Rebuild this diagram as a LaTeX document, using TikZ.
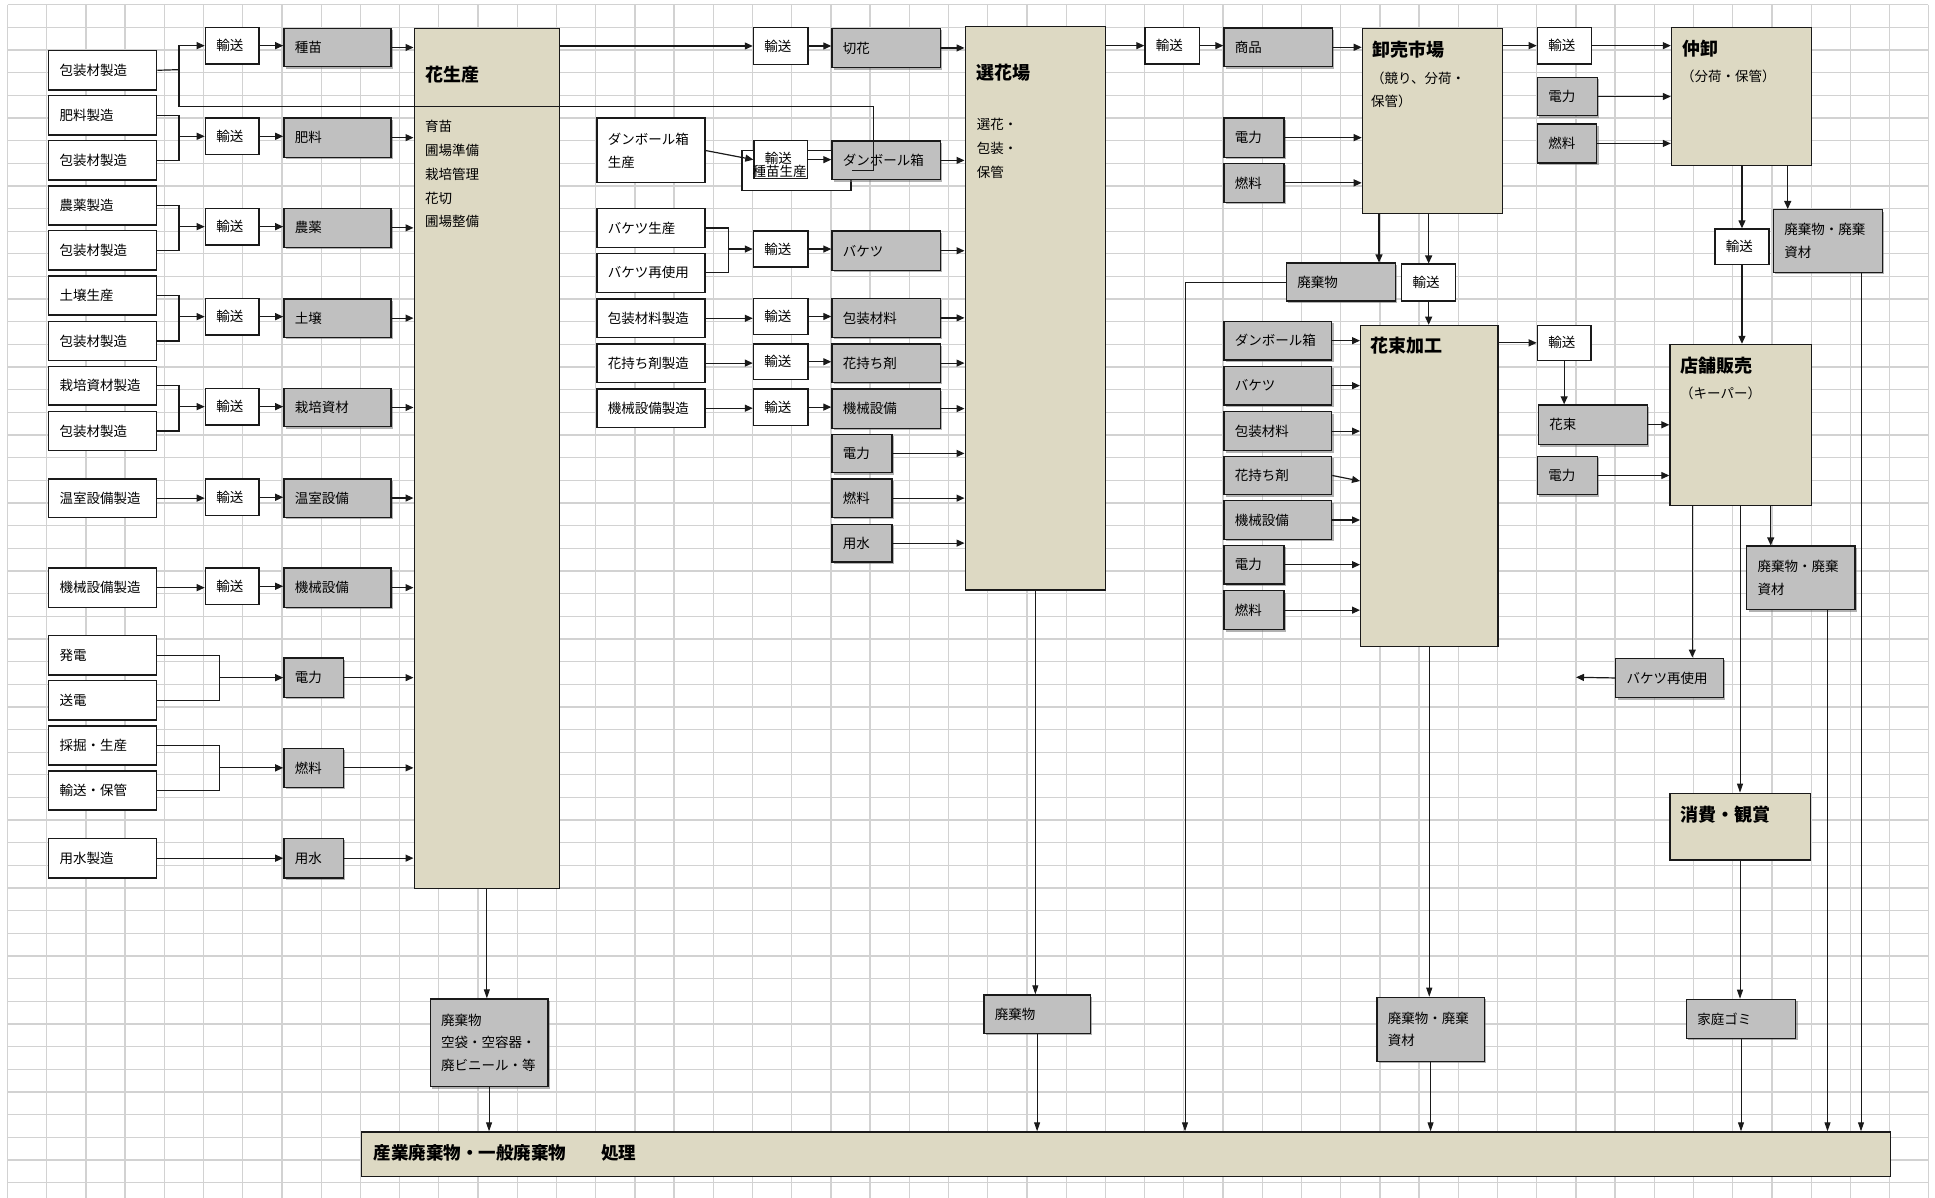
\documentclass[tikz,border=0pt]{standalone}
\usepackage{fontspec}
\setmainfont{Noto Sans CJK JP}
\usetikzlibrary{arrows.meta,shadows,calc}
\definecolor{gfill}{HTML}{C0C0C0}
\definecolor{tfill}{HTML}{DDD9C3}
\definecolor{bord}{HTML}{1A1A1A}
\definecolor{gridc}{HTML}{D2D2D2}
\tikzset{
 base/.style={draw=bord, line width=1.3pt, inner xsep=11pt, inner ysep=0pt, align=left, font=\fontsize{13.5}{22.7}\selectfont},
 wbox/.style={base, fill=white},
 gbox/.style={base, fill=gfill, drop shadow={shadow xshift=2pt, shadow yshift=-2pt, fill=black!55, opacity=0.55}},
 tbox/.style={base, fill=tfill, line width=1.2pt},
 ttl/.style={font=\fontsize{18}{22}\selectfont\bfseries, inner sep=0pt, anchor=west},
 bigttl/.style={font=\fontsize{17.5}{22}\selectfont\bfseries, inner sep=0pt, anchor=west},
 sub/.style={font=\fontsize{13.5}{23.7}\selectfont, inner sep=0pt, anchor=west, align=left},
 lbl/.style={font=\fontsize{13.5}{22.7}\selectfont, inner sep=0pt, anchor=west},
 arr/.style={draw=bord, line width=1.2pt, -{Triangle[length=8pt,width=7pt]}},
 varr/.style={draw=bord, line width=0.9pt, -{Triangle[length=9pt,width=6pt]}},
 ln/.style={draw=bord, line width=1.2pt},
 gridline/.style={draw=gridc, line width=1.3pt},
}
\newcommand\bx[7]{%
  \pgfmathsetmacro\bxw{#5-#3}\pgfmathsetmacro\bxh{#6-#4}\pgfmathsetmacro\bxt{#5-#3-22}%
  \node[#1, anchor=north west, minimum width=\bxw pt, minimum height=\bxh pt, text width=\bxt pt] (#2) at (#3,#4) {#7};}
\begin{document}
\begin{tikzpicture}[x=1pt,y=-1pt]
\useasboundingbox (0,0) rectangle (1935,1198);
\fill[white] (0,0) rectangle (1935,1198);
% grid
\foreach \i in {0,...,49} \draw[gridline] ({7.5+39.21*\i},4.7) -- ({7.5+39.21*\i},1198);
\foreach \j in {0,...,52} \draw[gridline] (7.5,{4.7+22.65*\j}) -- (1928,{4.7+22.65*\j});

% ---------- left column ----------
\bx{wbox}{L1}{48}{50}{156}{89.3}{包装材製造}
\bx{wbox}{L2}{48}{95}{156}{134.3}{肥料製造}
\bx{wbox}{L3}{48}{140}{156}{179.3}{包装材製造}
\bx{wbox}{L4}{48}{185.3}{156}{224.3}{農薬製造}
\bx{wbox}{L5}{48}{230}{156}{269.3}{包装材製造}
\bx{wbox}{L6}{48}{275.3}{156}{314.3}{土壌生産}
\bx{wbox}{L7}{48}{320.7}{156}{360}{包装材製造}
\bx{wbox}{L8}{48}{365.7}{156}{404.3}{栽培資材製造}
\bx{wbox}{L9}{48}{410.7}{156}{450}{包装材製造}
\bx{wbox}{L10}{48}{478.3}{156}{516.7}{温室設備製造}
\bx{wbox}{L11}{48}{567.3}{156}{606.7}{機械設備製造}
\bx{wbox}{L12}{48}{635}{156}{674.3}{発電}
\bx{wbox}{L13}{48}{680}{156}{719.3}{送電}
\bx{wbox}{L14}{48}{725.3}{156}{764.3}{採掘・生産}
\bx{wbox}{L15}{48}{770.3}{156}{809.3}{輸送・保管}
\bx{wbox}{L16}{48}{837.7}{156}{877.3}{用水製造}

\bx{wbox}{T1}{204.7}{26.7}{258.3}{63.3}{輸送}
\bx{wbox}{T2}{204.7}{117.3}{258.3}{154}{輸送}
\bx{wbox}{T3}{204.7}{207.7}{258.3}{244.3}{輸送}
\bx{wbox}{T4}{204.7}{297.7}{258.3}{334.3}{輸送}
\bx{wbox}{T5}{204.7}{387.7}{258.3}{424.3}{輸送}
\bx{wbox}{T6}{204.7}{478.3}{258.3}{514.9}{輸送}
\bx{wbox}{T7}{204.7}{567.3}{258.3}{603.9}{輸送}

\bx{gbox}{G1}{283.2}{27.7}{390.4}{66}{種苗}
\bx{gbox}{G2}{283.2}{117.3}{390.4}{156.7}{肥料}
\bx{gbox}{G3}{283.2}{207.7}{390.4}{246.7}{農薬}
\bx{gbox}{G4}{283.2}{298.3}{390.4}{336.7}{土壌}
\bx{gbox}{G5}{283.2}{387.7}{390.4}{426}{栽培資材}
\bx{gbox}{G6}{283.2}{478.3}{390.4}{516.5}{温室設備}
\bx{gbox}{G7}{283.2}{567.3}{390.4}{606.7}{機械設備}
\bx{gbox}{E1}{283.2}{657.3}{342.5}{696.7}{電力}
\bx{gbox}{F1}{283.2}{747.7}{342.5}{786.7}{燃料}
\bx{gbox}{W1}{283.2}{837.7}{342.5}{877.3}{用水}

\bx{tbox}{P}{413.5}{28.3}{559}{888}{}
\node[ttl] (Pt) at (425,75) {花生産};
\node[sub] (Ps) at (425,174.2) {育苗\\圃場準備\\栽培管理\\花切\\圃場整備};

% ---------- middle ----------
\bx{wbox}{M1}{752.8}{26.8}{807.2}{63.9}{輸送}
\bx{gbox}{CF}{831.3}{27.6}{939.6}{67}{切花}
\bx{tbox}{S}{964.5}{25.6}{1105}{589.4}{}
\node[ttl] (St) at (976.7,72.7) {選花場};
\node[sub,font=\fontsize{13.5}{23.9}\selectfont] (Ss) at (976.7,148.3) {選花・\\包装・\\保管};

\bx{wbox}{DBP}{596.3}{117.5}{704.2}{182.2}{ダンボール箱\\生産}
\bx{wbox}{SP}{741.4}{150}{850.4}{190.2}{}
\bx{wbox}{M2}{753.3}{140}{806.7}{178}{\raisebox{4pt}{輸送}}
\node[lbl] (SPt) at (752.5,171.7) {種苗生産};
\bx{gbox}{DB}{831.3}{140.5}{939.6}{179}{ダンボール箱}
\bx{wbox}{BP}{596.3}{207.8}{704.2}{246.8}{バケツ生産}
\bx{wbox}{BR}{596.3}{252.6}{704.2}{291.6}{バケツ再使用}
\bx{wbox}{M3}{752.8}{230.4}{807.2}{266.4}{輸送}
\bx{gbox}{BK}{831.3}{230.4}{939.6}{269.8}{バケツ}
\bx{wbox}{PP}{596.3}{298.5}{704.2}{336.8}{包装材料製造}
\bx{wbox}{M4}{752.8}{297.7}{807.2}{334}{輸送}
\bx{gbox}{PK}{831.3}{297.7}{939.6}{336.8}{包装材料}
\bx{wbox}{HP}{596.3}{343.3}{704.2}{381.6}{花持ち剤製造}
\bx{wbox}{M5}{752.8}{343.3}{807.2}{378.9}{輸送}
\bx{gbox}{HK}{831.3}{343.3}{939.6}{381.6}{花持ち剤}
\bx{wbox}{KP}{596.3}{388.4}{704.2}{426.7}{機械設備製造}
\bx{wbox}{M6}{752.8}{388.4}{807.2}{424.5}{輸送}
\bx{gbox}{KK}{831.3}{388.4}{939.6}{427.5}{機械設備}
\bx{gbox}{E2}{831.3}{433.6}{891.4}{471.9}{電力}
\bx{gbox}{F2}{831.3}{478.4}{891.4}{516.6}{燃料}
\bx{gbox}{W2}{831.3}{523.5}{891.4}{561.4}{用水}

% ---------- right ----------
\bx{wbox}{R1}{1144.3}{26.7}{1199}{63.3}{輸送}
\bx{gbox}{SH}{1223.3}{27.3}{1331.7}{66}{商品}
\bx{tbox}{OR}{1361.7}{28.3}{1501.7}{212.7}{}
\node[ttl] (ORt) at (1372.7,50) {卸売市場};
\node[sub,font=\fontsize{13.5}{23.4}\selectfont] (ORs) at (1371,90) {（競り、分荷・\\保管）};
\bx{gbox}{E3}{1223.3}{117.3}{1283.3}{156.7}{電力}
\bx{gbox}{F3}{1223.3}{162.7}{1283.3}{201.7}{燃料}
\bx{wbox}{R2}{1536.7}{26.7}{1590.7}{63.3}{輸送}
\bx{gbox}{E4}{1536.7}{76.7}{1596.7}{115}{電力}
\bx{gbox}{F4}{1536.7}{123.3}{1596}{162.3}{燃料}
\bx{tbox}{NK}{1670.8}{27.3}{1811}{165}{}
\node[ttl] (NKt) at (1682.3,49) {仲卸};
\node[sub] (NKs) at (1681,76.8) {（分荷・保管）};
\bx{gbox}{WA}{1285.7}{262.5}{1394.5}{300.5}{廃棄物}
\bx{wbox}{R3}{1401}{263.5}{1455}{300.5}{輸送}
\bx{tbox}{HT}{1360}{324.7}{1497.3}{646}{}
\node[ttl] (HTt) at (1370.3,346) {花束加工};
\bx{gbox}{DB2}{1223.3}{320.7}{1331}{359.3}{ダンボール箱}
\bx{gbox}{BK2}{1223.3}{365.7}{1331}{404.3}{バケツ}
\bx{gbox}{PK2}{1223.3}{411}{1331}{450}{包装材料}
\bx{gbox}{HK2}{1223.3}{455.7}{1331}{494}{花持ち剤}
\bx{gbox}{KK2}{1223.3}{500}{1331}{538.7}{機械設備}
\bx{gbox}{E5}{1223.3}{544.7}{1283.3}{583.3}{電力}
\bx{gbox}{F5}{1223.3}{590}{1283.3}{629}{燃料}
\bx{wbox}{R4}{1536.7}{324.7}{1590.3}{359.7}{輸送}
\bx{gbox}{FB}{1537.7}{404.3}{1646.7}{444}{花束}
\bx{gbox}{E6}{1536.7}{455.7}{1596.7}{494}{電力}
\bx{tbox}{SS}{1669.3}{343.8}{1810.5}{504.7}{}
\node[ttl] (SSt) at (1679.8,366) {店舗販売};
\node[sub] (SSs) at (1680,393.8) {（キーパー）};
\bx{wbox}{R5}{1714.3}{228.3}{1768.3}{264}{輸送}
\bx{gbox}{WB}{1772.7}{209}{1881.7}{271.7}{廃棄物・廃棄\\資材}
\bx{gbox}{BR2}{1615}{657.5}{1722.7}{697.1}{バケツ再使用}
\bx{gbox}{WC}{1746}{545.4}{1854.3}{608.9}{廃棄物・廃棄\\資材}
\bx{tbox}{CS}{1669.3}{792.6}{1809.5}{859.4}{}
\node[ttl] (CSt) at (1680,815) {消費・観賞};
\bx{gbox}{HG}{1685.7}{998.7}{1795}{1037.8}{家庭ゴミ}

% ---------- bottom ----------
\bx{gbox}{WP}{429.5}{998.3}{547.3}{1086}{廃棄物\\空袋・空容器・\\廃ビニール・等}
\bx{gbox}{WS}{983.3}{994.3}{1089.6}{1032.7}{廃棄物}
\bx{gbox}{WH}{1376.2}{996.7}{1483.6}{1060.7}{廃棄物・廃棄\\資材}
\bx{tbox}{BAR}{361}{1131.3}{1890}{1175.5}{}
\node[bigttl] (BARt) at (373.7,1153.3) {産業廃棄物・一般廃棄物　　処理};

% ========== connectors ==========
% left
\coordinate (j1) at (179,69.65);
\coordinate (k1) at (873.4,106.4);
\draw[ln] (L1.east) -- (j1);
\draw[arr] (j1) |- (T1.west);
\draw[ln] (j1) |- (k1) |- (SP.east);
\foreach \a/\b/\t in {L2/L3/T2, L4/L5/T3, L6/L7/T4, L8/L9/T5} {
  \coordinate (jj) at ($(\t.west)+(-25.7,0)$);
  \draw[ln] (\a.east) -| (jj);
  \draw[ln] (\b.east) -| (jj);
  \draw[arr] (jj) -- (\t.west);
}
\draw[arr] (L10.east) -- (L10.east -| T6.west);
\draw[arr] (L11.east) -- (L11.east -| T7.west);
\foreach \t/\g in {T1/G1, T2/G2, T3/G3, T4/G4, T5/G5, T6/G6, T7/G7}
  \draw[arr] (\t.east) -- (\t.east -| \g.west);
\foreach \g in {G1,G2,G3,G4,G5,G6,G7,E1,F1,W1}
  \draw[arr] (\g.east) -- (\g.east -| P.west);
\foreach \a/\b/\t in {L12/L13/E1, L14/L15/F1} {
  \coordinate (jj) at ($(\t.west)+(-64,0)$);
  \draw[ln] (\a.east) -| (jj);
  \draw[ln] (\b.east) -| (jj);
  \draw[arr] (jj) -- (\t.west);
}
\draw[arr] (L16.east) -- (L16.east -| W1.west);

% middle
\draw[arr] (M1.west -| P.east) -- (M1.west);
\draw[arr] (M1.east) -- (M1.east -| CF.west);
\draw[arr] (DBP.east) -- (M2.west);
\draw[arr] (M2.east) -- (M2.east -| DB.west);
\coordinate (j9) at ($(M3.west)+(-24.5,0)$);
\draw[ln] (BP.east) -| (j9);
\draw[ln] (BR.east) -| (j9);
\draw[arr] (j9) -- (M3.west);
\draw[arr] (PP.east) -- (PP.east -| M4.west);
\draw[arr] (HP.east) -- (HP.east -| M5.west);
\draw[arr] (KP.east) -- (KP.east -| M6.west);
\foreach \t/\g in {M3/BK, M4/PK, M5/HK, M6/KK}
  \draw[arr] (\t.east) -- (\t.east -| \g.west);
\foreach \g in {CF,DB,BK,PK,HK,KK,E2,F2,W2}
  \draw[arr] (\g.east) -- (\g.east -| S.west);

% right
\draw[arr] (R1.west -| S.east) -- (R1.west);
\draw[arr] (R1.east) -- (R1.east -| SH.west);
\foreach \g in {SH,E3,F3}
  \draw[arr] (\g.east) -- (\g.east -| OR.west);
\draw[arr] (R2.west -| OR.east) -- (R2.west);
\foreach \g in {R2,E4,F4}
  \draw[arr] (\g.east) -- (\g.east -| NK.west);
\coordinate (xa) at (1379,0);
\draw[arr] (OR.south -| xa) -- (WA.north -| xa);
\draw[arr] (OR.south -| R3.north) -- (R3.north);
\draw[arr] (R3.south) -- (R3.south |- HT.north);
\coordinate (xb) at (1185,0);
\draw[varr] (WA.west) -| (BAR.north -| xb);
\foreach \g in {DB2,BK2,PK2,KK2,E5,F5}
  \draw[arr] (\g.east) -- (\g.east -| HT.west);
\draw[arr] (HK2.east) -- ($(HK2.east -| HT.west)+(0,5.5)$);
\draw[arr] (R4.west -| HT.east) -- (R4.west);
\draw[arr] (R4.south) -- (R4.south |- FB.north);
\draw[arr] (FB.east) -- (FB.east -| SS.west);
\draw[arr] (E6.east) -- (E6.east -| SS.west);
\draw[arr] (NK.south -| R5.north) -- (R5.north);
\draw[arr] (R5.south) -- (R5.south |- SS.north);
\coordinate (xc) at (1787.7,0);
\draw[arr] (NK.south -| xc) -- (WB.north -| xc);
\coordinate (xd) at (1861,0);
\draw[varr] (WB.south -| xd) -- (BAR.north -| xd);
\coordinate (xe) at (1692.3,0);
\draw[arr] (SS.south -| xe) -- (BR2.north -| xe);
\coordinate (bfree) at (1576,677.3);
\draw[arr] (BR2.west) -- (bfree);
\draw[varr] (SS.south -| CS.north) -- (CS.north);
\coordinate (xf) at (1770.7,0);
\draw[arr] (SS.south -| xf) -- (WC.north -| xf);
\coordinate (xg) at (1827.5,0);
\draw[varr] (WC.south -| xg) -- (BAR.north -| xg);
\draw[varr] (CS.south) -- (CS.south |- HG.north);
\draw[varr] (HG.south) -- (HG.south |- BAR.north);

% bottom wastes
\draw[varr] (P.south) -- (P.south |- WP.north);
\draw[varr] (WP.south) -- (WP.south |- BAR.north);
\draw[varr] (S.south) -- (S.south |- WS.north);
\draw[varr] (WS.south) -- (WS.south |- BAR.north);
\draw[varr] (HT.south) -- (HT.south |- WH.north);
\draw[varr] (WH.south) -- (WH.south |- BAR.north);
\end{tikzpicture}
\end{document}
